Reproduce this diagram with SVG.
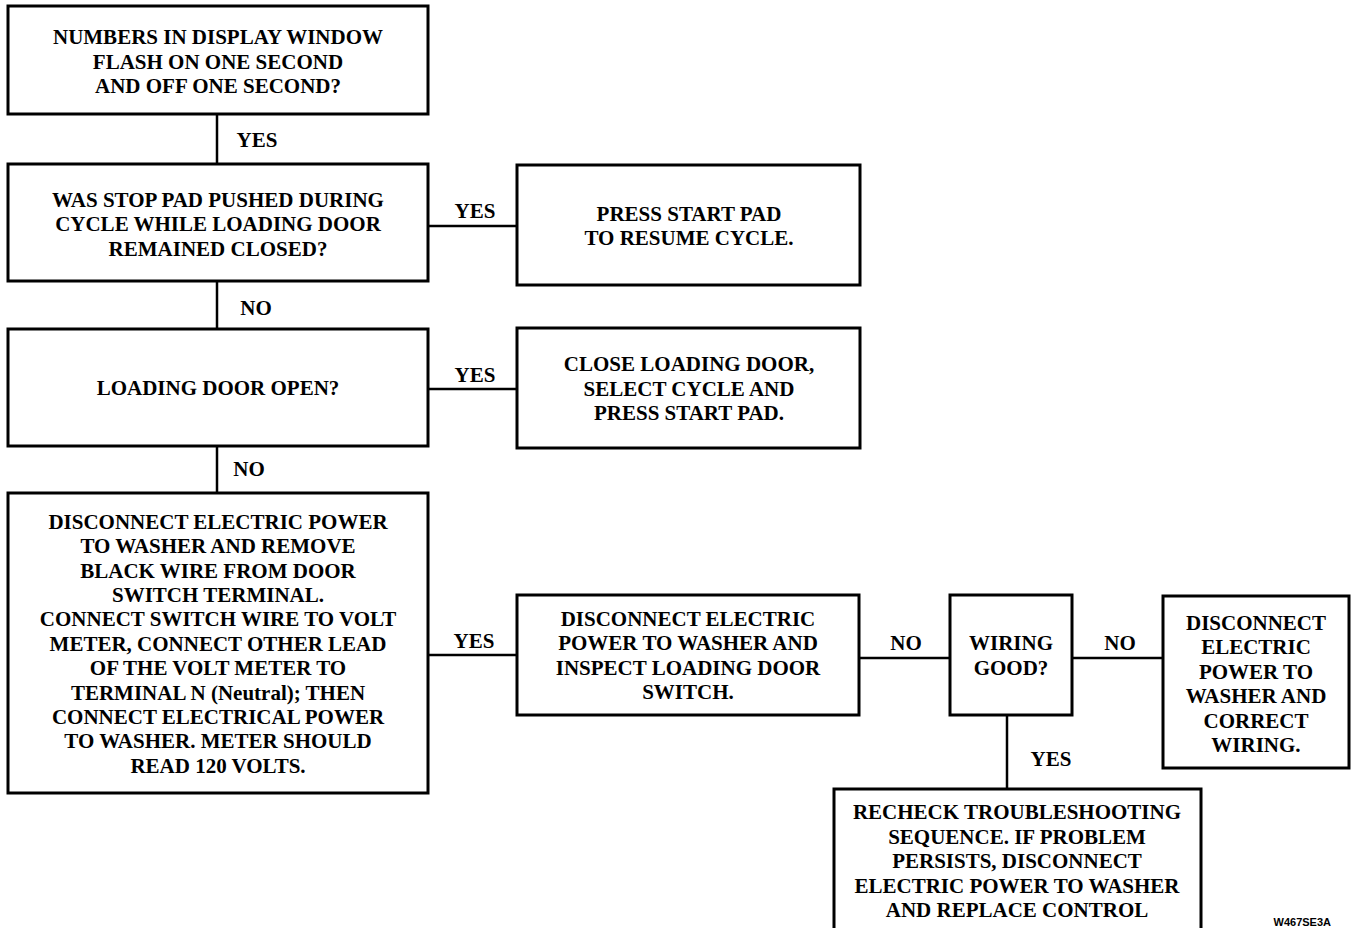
<svg xmlns="http://www.w3.org/2000/svg" width="1351" height="928" viewBox="0 0 1351 928">
<style>
.box{fill:#fff;stroke:#000;stroke-width:3}
.c{stroke:#000;stroke-width:2.5;fill:none}
text{font-family:"Liberation Serif","Times New Roman",serif;font-weight:bold;font-size:21px;fill:#000;text-anchor:middle}
.lbl{font-size:21px}
.code{font-family:"Liberation Sans",Arial,sans-serif;font-size:11px;font-weight:bold;text-anchor:end}
</style>
<rect width="1351" height="928" fill="#fff"/>
<g id="connectors">
<line class="c" x1="217" y1="114" x2="217" y2="164"/>
<line class="c" x1="428" y1="226" x2="517" y2="226"/>
<line class="c" x1="217" y1="281" x2="217" y2="329"/>
<line class="c" x1="428" y1="389" x2="517" y2="389"/>
<line class="c" x1="217" y1="446" x2="217" y2="494"/>
<line class="c" x1="428" y1="655" x2="517" y2="655"/>
<line class="c" x1="860" y1="658" x2="950" y2="658"/>
<line class="c" x1="1072" y1="658" x2="1163" y2="658"/>
<line class="c" x1="1007" y1="715" x2="1007" y2="789"/>
<text class="lbl" x="257" y="147">YES</text>
<text class="lbl" x="475" y="218">YES</text>
<text class="lbl" x="256" y="315">NO</text>
<text class="lbl" x="475" y="382">YES</text>
<text class="lbl" x="249" y="476">NO</text>
<text class="lbl" x="474" y="648">YES</text>
<text class="lbl" x="906" y="650">NO</text>
<text class="lbl" x="1120" y="650">NO</text>
<text class="lbl" x="1051" y="766">YES</text>
</g>
<g id="n1">
<rect class="box" x="8" y="6" width="420" height="108"/>
<text x="218" y="44">NUMBERS IN DISPLAY WINDOW</text>
<text x="218" y="69">FLASH ON ONE SECOND</text>
<text x="218" y="93">AND OFF ONE SECOND?</text>
</g>
<g id="n2">
<rect class="box" x="8" y="164" width="420" height="117"/>
<text x="218" y="207">WAS STOP PAD PUSHED DURING</text>
<text x="218" y="231">CYCLE WHILE LOADING DOOR</text>
<text x="218" y="256">REMAINED CLOSED?</text>
</g>
<g id="n3">
<rect class="box" x="517" y="165" width="343" height="120"/>
<text x="689" y="221">PRESS START PAD</text>
<text x="689" y="245">TO RESUME CYCLE.</text>
</g>
<g id="n4">
<rect class="box" x="8" y="329" width="420" height="117"/>
<text x="218" y="395">LOADING DOOR OPEN?</text>
</g>
<g id="n5">
<rect class="box" x="517" y="328" width="343" height="120"/>
<text x="689" y="371">CLOSE LOADING DOOR,</text>
<text x="689" y="396">SELECT CYCLE AND</text>
<text x="689" y="420">PRESS START PAD.</text>
</g>
<g id="n6">
<rect class="box" x="8" y="493" width="420" height="300"/>
<text x="218" y="529">DISCONNECT ELECTRIC POWER</text>
<text x="218" y="553">TO WASHER AND REMOVE</text>
<text x="218" y="578">BLACK WIRE FROM DOOR</text>
<text x="218" y="602">SWITCH TERMINAL.</text>
<text x="218" y="626">CONNECT SWITCH WIRE TO VOLT</text>
<text x="218" y="651">METER, CONNECT OTHER LEAD</text>
<text x="218" y="675">OF THE VOLT METER TO</text>
<text x="218" y="700">TERMINAL N (Neutral); THEN</text>
<text x="218" y="724">CONNECT ELECTRICAL POWER</text>
<text x="218" y="748">TO WASHER. METER SHOULD</text>
<text x="218" y="773">READ 120 VOLTS.</text>
</g>
<g id="n7">
<rect class="box" x="517" y="595" width="342" height="120"/>
<text x="688" y="626">DISCONNECT ELECTRIC</text>
<text x="688" y="650">POWER TO WASHER AND</text>
<text x="688" y="675">INSPECT LOADING DOOR</text>
<text x="688" y="699">SWITCH.</text>
</g>
<g id="n8">
<rect class="box" x="950" y="595" width="122" height="120"/>
<text x="1011" y="650">WIRING</text>
<text x="1011" y="675">GOOD?</text>
</g>
<g id="n9">
<rect class="box" x="1163" y="596" width="186" height="172"/>
<text x="1256" y="630">DISCONNECT</text>
<text x="1256" y="654">ELECTRIC</text>
<text x="1256" y="679">POWER TO</text>
<text x="1256" y="703">WASHER AND</text>
<text x="1256" y="728">CORRECT</text>
<text x="1256" y="752">WIRING.</text>
</g>
<g id="n10">
<rect class="box" x="834" y="789" width="367" height="160"/>
<text x="1017" y="819">RECHECK TROUBLESHOOTING</text>
<text x="1017" y="844">SEQUENCE. IF PROBLEM</text>
<text x="1017" y="868">PERSISTS, DISCONNECT</text>
<text x="1017" y="893">ELECTRIC POWER TO WASHER</text>
<text x="1017" y="917">AND REPLACE CONTROL</text>
</g>
<text class="code" x="1331" y="926">W467SE3A</text>
</svg>
